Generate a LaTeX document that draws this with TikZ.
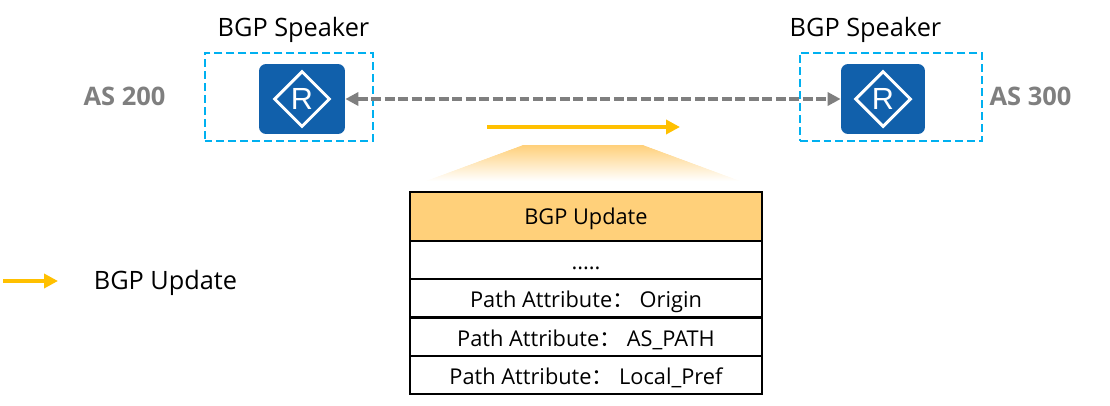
\documentclass[tikz,border=0pt]{standalone}
\usepackage{fontspec}
\setmainfont{Open Sans}
\newfontfamily\cjkfont{Noto Sans CJK SC}
\newfontfamily\routerfont{Liberation Sans}
\usetikzlibrary{arrows.meta,shapes.geometric}
\definecolor{routerblue}{HTML}{1160AB}
\definecolor{boxblue}{HTML}{00B0F0}
\definecolor{updateyellow}{HTML}{FFC000}
\definecolor{headerorange}{HTML}{FFD07A}
\definecolor{asgray}{HTML}{7F7F7F}
\newcommand{\pathattr}[1]{Path Attribute{\cjkfont ：}#1}
\begin{document}
\begin{tikzpicture}[x=0.02cm,y=-0.02cm,
cell/.style={draw=black,rectangle,minimum width=7.04cm,inner sep=0pt,line width=0.04cm,text height=0.38cm,text depth=0pt,font=\fontsize{12.4}{12.4}\selectfont,anchor=center},
speaker/.style={font=\fontsize{14.4}{14.4}\selectfont,anchor=center},
aslabel/.style={text=asgray,font=\fontsize{14.5}{14.5}\selectfont\bfseries,anchor=center},
asbox/.style={draw=boxblue,rectangle,dashed,dash pattern=on 0.16cm off 0.08cm,line width=0.04cm,minimum width=3.38cm,minimum height=1.76cm,inner sep=0pt},
router/.style={fill=routerblue,rectangle,rounded corners=0.14cm,minimum width=1.72cm,minimum height=1.4cm,inner sep=0pt},
rdiamond/.style={draw=white,diamond,line width=0.06cm,minimum width=1.12cm,minimum height=1.12cm,inner sep=0pt,aspect=1,text=white,font=\routerfont\fontsize{17.4}{17.4}\selectfont},
update/.style={-{Triangle[length=0.28cm,width=0.28cm]},updateyellow,line width=0.09cm}]
\useasboundingbox (0,0) rectangle (1110,406);

% speakers
\draw (203.5,52) node[asbox,anchor=north west] (as1) {};
\draw (798.5,52) node[asbox,anchor=north west,minimum width=3.66cm] (as2) {};
\draw (302,99) node[router] (r1) {};
\draw (883,99) node[router,minimum width=1.68cm] (r2) {};
\draw (302,99) node[rdiamond] (d1) {R};
\draw (883,99) node[rdiamond] (d2) {R};
\draw (293.5,30) node[speaker] (s1) {BGP Speaker};
\draw (865.5,30) node[speaker] (s2) {BGP Speaker};
\draw (124.5,96) node[aslabel] (a1) {AS 200};
\draw (1030.5,96) node[aslabel] (a2) {AS 300};

\draw[{Triangle[length=0.26cm,width=0.26cm]}-{Triangle[length=0.26cm,width=0.26cm]},asgray,line width=0.07cm,dash pattern=on 0.2cm off 0.07cm] (r1.east) -- (r2.west);

% update arrow and fan
\coordinate (u1) at (487,127);
\coordinate (u2) at (680,127);
\draw[update] (u1) -- (u2);
\foreach \i in {0,...,36}{
  \pgfmathsetmacro{\shadepct}{100-100*\i/36}
  \fill[headerorange!\shadepct!white] (523-100*\i/37,145+\i) -- (643+100*\i/37,145+\i)
    -- (643+100*\i/37+100/37,146.3+\i) -- (523-100*\i/37-100/37,146.3+\i) -- cycle;
}

% message table
\draw (586,216.5) node[cell,fill=headerorange,minimum height=0.98cm,text height=0.3cm] (hdr) {BGP Update};
\draw (586,260) node[cell,minimum height=0.76cm] (dots) {.....};
\draw (586,298) node[cell,minimum height=0.76cm] (orig) {\pathattr{ Origin}};
\draw (586,336.5) node[cell,minimum height=0.76cm] (aspath) {\pathattr{ AS\_PATH}};
\draw (586,375) node[cell,minimum height=0.76cm] (pref) {\pathattr{ Local\_Pref}};

% legend
\coordinate (l1) at (3,281);
\coordinate (l2) at (58,281);
\draw[update] (l1) -- (l2);
\draw (165.5,283) node[speaker] (leg) {BGP Update};

\end{tikzpicture}
\end{document}
